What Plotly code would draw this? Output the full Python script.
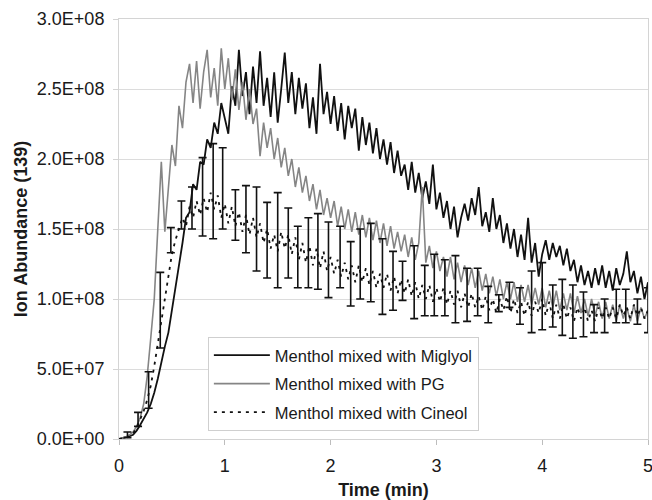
import plotly.graph_objects as go

# ---------------- data (values in units of 1E+06 ion counts) ----------------
SAMPLE_STEP_MIN = 2.0 / 60.0  # one scan every 2 s
N_SCANS = 151
time_min = [round(i * SAMPLE_STEP_MIN, 4) for i in range(N_SCANS)]

miglyol = [
    0, 0.5, 1, 2, 3, 6, 10, 14, 19, 25,
    33, 43, 55, 66, 76, 92, 105, 122, 140, 158,
    162, 182, 178, 198, 196, 214, 208, 226, 218, 240,
    230, 218, 252, 238, 278, 245, 262, 232, 266, 240,
    277, 238, 258, 230, 262, 226, 250, 276, 240, 262,
    232, 258, 236, 254, 222, 244, 218, 268, 232, 248,
    225, 245, 220, 240, 214, 238, 222, 236, 206, 230,
    210, 226, 204, 222, 200, 214, 196, 212, 190, 206,
    188, 196, 178, 198, 176, 190, 172, 184, 168, 196,
    164, 176, 158, 170, 150, 166, 144, 158, 168, 156,
    172, 160, 180, 152, 162, 148, 172, 150, 160, 140,
    154, 136, 150, 130, 146, 128, 158, 126, 140, 116,
    132, 142, 128, 140, 130, 138, 124, 136, 120, 128,
    112, 124, 110, 120, 108, 122, 110, 124, 108, 120,
    106, 122, 110, 118, 134, 112, 120, 104, 116, 100,
    112,
]

pg = [
    0, 0.5, 1.5, 3, 5, 9, 15, 25, 45, 72,
    100, 150, 198, 148, 182, 210, 195, 238, 222, 255,
    268, 240, 270, 236, 262, 278, 244, 265, 238, 279,
    250, 272, 242, 264, 235, 255, 228, 250, 225, 236,
    202, 226, 208, 222, 200, 215, 194, 208, 188, 200,
    180, 194, 176, 188, 170, 182, 164, 178, 160, 172,
    158, 170, 152, 166, 150, 164, 148, 162, 146, 160,
    144, 158, 142, 156, 140, 154, 138, 152, 136, 148,
    134, 146, 130, 144, 128, 140, 180, 126, 138, 122,
    134, 120, 130, 116, 130, 114, 126, 112, 124, 110,
    122, 108, 120, 106, 118, 104, 116, 102, 114, 100,
    112, 100, 112, 98, 110, 98, 110, 96, 108, 96,
    108, 94, 106, 94, 106, 92, 104, 92, 104, 90,
    102, 90, 100, 88, 100, 88, 98, 86, 98, 86,
    96, 84, 96, 86, 94, 84, 96, 84, 94, 86,
    92,
]

cineol = [
    0, 0.3, 0.8, 2, 4, 8, 14, 20, 28, 38,
    52, 68, 85, 100, 118, 132, 142, 150, 158, 152,
    166, 158, 170, 160, 172, 162, 176, 164, 174, 158,
    168, 154, 166, 152, 162, 148, 160, 146, 158, 144,
    154, 140, 150, 136, 146, 134, 148, 136, 146, 132,
    144, 128, 140, 126, 138, 124, 136, 122, 134, 120,
    130, 118, 128, 116, 126, 114, 124, 112, 124, 112,
    122, 110, 120, 108, 118, 108, 118, 106, 116, 104,
    114, 104, 114, 102, 112, 100, 110, 100, 110, 98,
    108, 98, 108, 96, 106, 96, 106, 94, 104, 94,
    104, 94, 102, 92, 102, 92, 100, 90, 100, 92,
    102, 90, 100, 90, 98, 88, 98, 88, 98, 90,
    100, 88, 98, 86, 96, 86, 96, 86, 94, 84,
    94, 86, 94, 84, 92, 84, 94, 86, 94, 86,
    94, 86, 96, 88, 94, 86, 96, 88, 94, 86,
    92,
]

# Cineol replicate means and half-range error bars
err_time = [0.08, 0.18, 0.28, 0.39, 0.49, 0.59, 0.69, 0.79, 0.89, 0.98,
            1.10, 1.20, 1.30, 1.40, 1.50, 1.60, 1.69, 1.79, 1.88, 1.98,
            2.09, 2.19, 2.28, 2.38, 2.49, 2.59, 2.68, 2.79, 2.89, 2.98,
            3.08, 3.18, 3.29, 3.39, 3.49, 3.59, 3.69, 3.79, 3.90, 4.00,
            4.10, 4.19, 4.29, 4.39, 4.49, 4.59, 4.70, 4.79, 4.90, 5.00]
err_mean = [3, 14, 35, 92, 142, 160, 165, 173, 177, 179,
            160, 157, 150, 142, 142, 140, 130, 133, 134, 128,
            130, 118, 125, 126, 116, 113, 113, 112, 106, 110,
            108, 107, 103, 105, 96, 97, 103, 95, 98, 102,
            95, 94, 91, 89, 86, 88, 95, 95, 91, 92]
err_half = [2, 5, 13, 27, 9, 10, 15, 28, 34, 29,
            18, 24, 30, 27, 34, 25, 22, 25, 27, 27,
            22, 23, 25, 28, 27, 21, 14, 26, 18, 22,
            20, 24, 19, 17, 13, 6, 9, 13, 22, 24,
            15, 20, 19, 16, 10, 12, 12, 12, 9, 16]

y_tick_vals = [0, 50, 100, 150, 200, 250, 300]
y_tick_text = ["0.0E+00", "5.0E+07", "1.0E+08", "1.5E+08", "2.0E+08", "2.5E+08", "3.0E+08"]
x_tick_vals = [0, 1, 2, 3, 4, 5]

series_names = ["Menthol mixed with Miglyol", "Menthol mixed with PG", "Menthol mixed with Cineol"]

# ---------------- figure ----------------
FONT = "Liberation Sans, Arial, sans-serif"
fig = go.Figure()

fig.add_trace(go.Scatter(
    x=time_min, y=miglyol, mode="lines", name=series_names[0],
    line=dict(color="#111111", width=1.8), legendgroup="a",
))
fig.add_trace(go.Scatter(
    x=time_min, y=pg, mode="lines", name=series_names[1],
    line=dict(color="#858585", width=1.6), legendgroup="b",
))
fig.add_trace(go.Scatter(
    x=err_time, y=err_mean, mode="markers", showlegend=False,
    marker=dict(size=1, color="rgba(0,0,0,0)"),
    error_y=dict(type="data", array=err_half, symmetric=True,
                 color="#111111", thickness=1.6, width=4),
    hoverinfo="skip", cliponaxis=False,
))
fig.add_trace(go.Scatter(
    x=time_min, y=cineol, mode="lines", name=series_names[2],
    line=dict(color="#111111", width=1.8, dash="3px,5px"), legendgroup="c",
))

fig.update_layout(
    width=652, height=500,
    margin=dict(l=119, r=4, t=19, b=61, autoexpand=False),
    paper_bgcolor="white", plot_bgcolor="white",
    font=dict(family=FONT, size=18, color="#1a1a1a"),
    showlegend=True,
    legend=dict(
        x=0.168, y=0.243, xanchor="left", yanchor="top",
        bgcolor="white", bordercolor="#cfcfcf", borderwidth=1,
        font=dict(family=FONT, size=16.5, color="#1a1a1a"),
        traceorder="grouped", tracegroupgap=4, itemwidth=56,
    ),
    xaxis=dict(
        range=[0, 5], tickvals=x_tick_vals, ticks="outside", ticklen=5,
        tickcolor="#bdbdbd", showgrid=False, zeroline=False,
        showline=True, linecolor="#d4d4d4", linewidth=1, mirror=True,
        tickfont=dict(size=18), automargin=False, ticklabelstandoff=5,
        ticklabeloverflow="allow",
        title=dict(text="<b>Time (min)</b>", font=dict(size=18), standoff=8),
    ),
    yaxis=dict(
        range=[0, 300], tickvals=y_tick_vals, ticktext=y_tick_text,
        ticks="outside", ticklen=5, tickcolor="#d4d4d4",
        showgrid=True, gridcolor="#dcdcdc", gridwidth=1, zeroline=False,
        showline=True, linecolor="#d4d4d4", linewidth=1, mirror=True,
        tickfont=dict(size=18), automargin=False, ticklabelstandoff=5,
        title=dict(text="<b>Ion Abundance (139)</b>", font=dict(size=18), standoff=4),
    ),
)

# remove the default page margin so the 652x500 figure fills the window exactly
fig.write_html(
    "out.html",
    config={"displayModeBar": False},
    post_script="document.body.style.margin='0';document.body.style.overflow='hidden';",
)
